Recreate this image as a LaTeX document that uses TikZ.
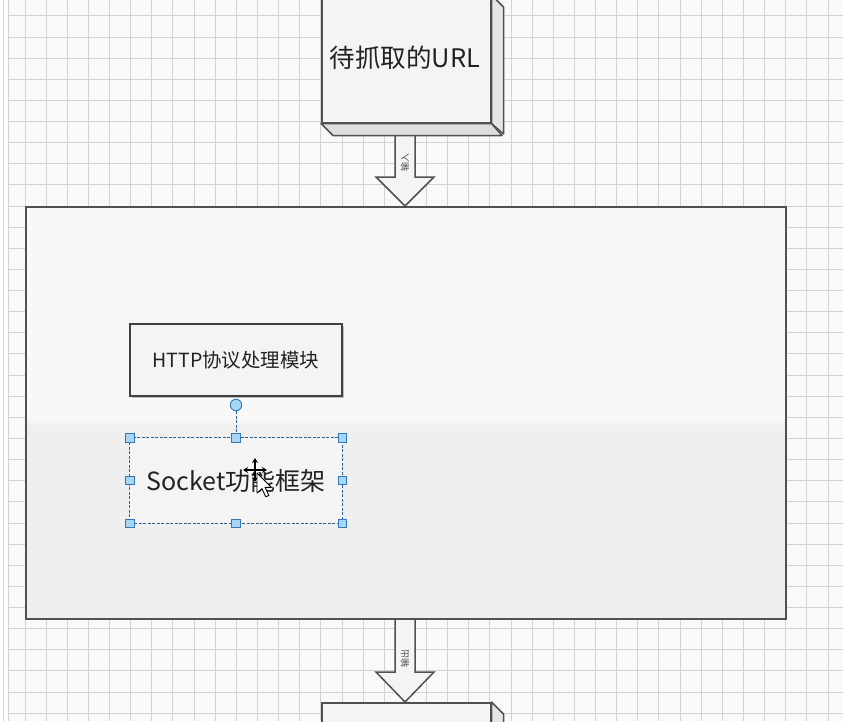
\documentclass[tikz,border=0pt]{standalone}
\usepackage{fontspec}
\newfontfamily\cjk{Noto Sans CJK SC}
\usetikzlibrary{arrows.meta}
\definecolor{bg}{HTML}{F9F9F9}
\definecolor{gridc}{HTML}{D2D2D2}
\definecolor{frametop}{HTML}{F8F8F8}
\definecolor{framebot}{HTML}{EFEFEF}
\definecolor{edgec}{HTML}{505050}
\definecolor{facefront}{HTML}{F4F4F4}
\definecolor{faceside}{HTML}{E6E6E6}
\definecolor{facebottom}{HTML}{DEDEDE}
\definecolor{textc}{HTML}{222222}
\definecolor{selblue}{HTML}{3478B8}
\definecolor{handlefill}{HTML}{A6D6F4}
\begin{document}
\begin{tikzpicture}[x=1pt,y=-1pt,
  gridline/.style={draw=gridc, line width=0.9pt},
  edge/.style={draw=edgec, line width=1.5pt},
  face/.style={edge, line join=round},
  blockarrow/.style={draw=edgec, line width=1.5pt, fill=facefront, line join=miter},
  arrowlabel/.style={rotate=90, text=black!70, font=\cjk\fontsize{9}{9}\selectfont, inner sep=0pt},
  modbox/.style={draw=black!75, line width=1.1pt, fill=facefront, minimum width=212pt, minimum height=72pt, inner sep=0pt, text=textc},
  handle/.style={draw=selblue, fill=handlefill, line width=0.8pt, minimum size=8.5pt, inner sep=0pt, rectangle},
  selline/.style={draw=selblue!80!black, line width=1pt, dash pattern=on 3pt off 1.5pt}
]
\useasboundingbox (0,0) rectangle (843,721);
\fill[bg] (0,0) rectangle (843,721);
\fill[white] (0,0) rectangle (8,721);
% grid
\foreach \k in {-1,...,38} {\draw[gridline] ({25+21.13*\k},0) -- ({25+21.13*\k},721);}
\foreach \k in {-10,...,24} {\draw[gridline] (8,{206+21.13*\k}) -- (843,{206+21.13*\k});}
\draw[gridline] (8,0) -- (8,721);

% arrows (drawn first so boxes cover their tails)
\draw[blockarrow] (395,120) -- (415,120) -- (415,177) -- (434,177) -- (405,206) -- (376,177) -- (395,177) -- cycle;
\draw[blockarrow] (395,605) -- (415,605) -- (415,672) -- (434,672) -- (405,702) -- (376,672) -- (395,672) -- cycle;

% top 3D box
\node[draw=edgec, line width=1.5pt, fill=facefront, minimum width=169pt, minimum height=127pt, inner sep=0pt, anchor=north west] (url) at (321,-5) {};
\draw[face, fill=faceside] (url.north east) -- ++(12,12) -- ++(0,127) -- (url.south east) -- cycle;
\draw[face, fill=facebottom] (url.south west) -- ++(12,12) -- ++(169,0) -- (url.south east) -- cycle;
\node[text=textc, font=\cjk\fontsize{25.5}{28}\selectfont, inner sep=0pt] (urltext) at (405,58) {待抓取的URL};

% big frame
\fill[frametop] (25,206) rectangle (785,419);
\shade[top color=frametop, bottom color=framebot] (25,419) rectangle (785,425);
\fill[framebot] (25,425) rectangle (785,618);
\node[draw=edgec, line width=1.8pt, minimum width=760pt, minimum height=412pt, inner sep=0pt, anchor=north west] (frame) at (25,206) {};

% bottom 3D box
\node[draw=edgec, line width=1.5pt, fill=facefront, minimum width=169pt, minimum height=40pt, inner sep=0pt, anchor=north west] (out) at (321,702) {};
\draw[face, fill=faceside] (out.north east) -- ++(12,12) -- ++(0,40) -- (out.south east) -- cycle;

% arrow labels
\node[arrowlabel] (inlbl) at (405,162) {输入};
\node[arrowlabel] (outlbl) at (405,658) {输出};

% HTTP module
\fill[black!25] (131.5,325.5) rectangle (343.5,397.5);
\node[modbox, font=\cjk\fontsize{19.5}{22}\selectfont] (http) at (236,360) {HTTP协议处理模块};

% Socket module (selected)
\node[draw=none, fill=facefront, minimum width=212pt, minimum height=85pt, inner sep=0pt, text=textc, font=\cjk\fontsize{25}{28}\selectfont] (socket) at (236,480.5) {Socket功能框架};
\draw[selline] (socket.north west) rectangle (socket.south east);

% rotation handle
\node[circle, draw=selblue, fill=handlefill, line width=0.9pt, minimum size=11.5pt, inner sep=0pt] (rot) at (236,405) {};
\node[handle] (h1) at (socket.north west) {};
\node[handle] (h2) at (socket.north) {};
\node[handle] (h3) at (socket.north east) {};
\node[handle] (h4) at (socket.west) {};
\node[handle] (h5) at (socket.east) {};
\node[handle] (h6) at (socket.south west) {};
\node[handle] (h7) at (socket.south) {};
\node[handle] (h8) at (socket.south east) {};
\draw[selline] (rot) -- (h2);

% mouse cursors
\coordinate (mv) at (255,470);
\draw[white, line width=3pt] ([xshift=-12pt]mv) -- ([xshift=12pt]mv);
\draw[white, line width=3pt] ([yshift=-12pt]mv) -- ([yshift=12pt]mv);
\draw[black, line width=1.2pt, {Stealth[length=5pt,width=6pt]}-{Stealth[length=5pt,width=6pt]}] ([xshift=-12pt]mv) -- ([xshift=12pt]mv);
\draw[black, line width=1.2pt, {Stealth[length=5pt,width=6pt]}-{Stealth[length=5pt,width=6pt]}] ([yshift=-12pt]mv) -- ([yshift=12pt]mv);
\coordinate (pt) at (257,473);
\draw[black, fill=white, line width=0.9pt, line join=round, shift={(pt)}, scale=1.25]
  (0,0) -- (0,16) -- (4,12.5) -- (7,19) -- (9.5,18) -- (6.5,11.5) -- (11.5,11.5) -- cycle;
\end{tikzpicture}
\end{document}
